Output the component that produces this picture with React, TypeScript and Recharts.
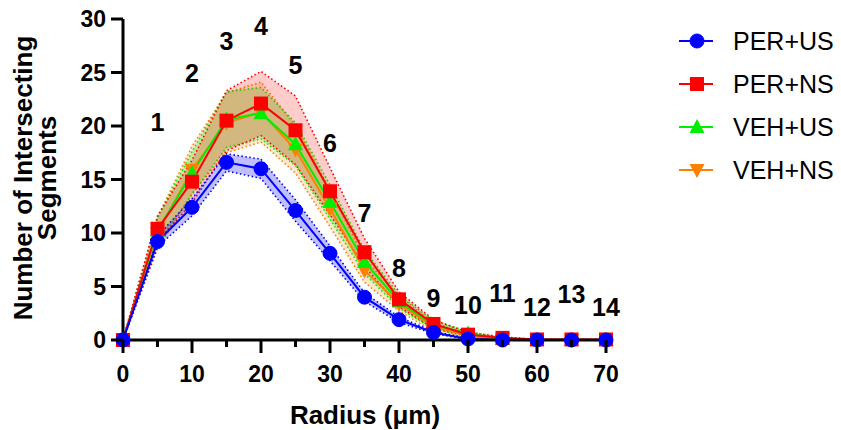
import React from 'react';
import {
  ComposedChart,
  Line,
  Area,
  XAxis,
  YAxis,
  LabelList,
} from 'recharts';

const radius = [0, 5, 10, 15, 20, 25, 30, 35, 40, 45, 50, 55, 60, 65, 70];

const perUS = [0, 9.2, 12.4, 16.6, 16.0, 12.1, 8.1, 4.0, 1.9, 0.7, 0.1, 0, 0, 0, 0];
const perUSErr = [0, 0.5, 0.8, 0.8, 0.9, 1.0, 0.7, 0.4, 0.25, 0.1, 0.05, 0, 0, 0, 0];

const perNS = [0, 10.4, 14.8, 20.5, 22.1, 19.6, 13.9, 8.2, 3.8, 1.5, 0.5, 0.2, 0.05, 0.05, 0.05];
const perNSErr = [0, 1.2, 2.0, 2.8, 3.0, 3.2, 2.2, 1.3, 0.7, 0.4, 0.2, 0.1, 0, 0, 0];

const vehUS = [0, 10.2, 15.6, 20.6, 21.2, 18.3, 12.9, 7.3, 3.6, 1.4, 0.6, 0.1, 0, 0, 0];
const vehUSErr = [0, 1.2, 2.0, 2.6, 2.4, 2.0, 1.6, 1.1, 0.6, 0.4, 0.2, 0.1, 0, 0, 0];

const vehNS = [0, 10.0, 15.9, 20.3, 21.3, 17.8, 12.3, 6.5, 3.4, 1.2, 0.4, 0.1, 0, 0, 0];
const vehNSErr = [0, 1.5, 2.2, 2.8, 2.8, 2.2, 1.7, 1.1, 0.7, 0.4, 0.2, 0.1, 0, 0, 0];

const stepLabels = [null, '1', '2', '3', '4', '5', '6', '7', '8', '9', '10', '11', '12', '13', '14'];
const stepLabelY = [null, 20.4, 25.0, 27.9, 29.3, 25.7, 18.4, 11.9, 6.7, 3.9, 3.3, 4.4, 3.1, 4.3, 3.1];

const xTicks = [0, 5, 10, 15, 20, 25, 30, 35, 40, 45, 50, 55, 60, 65, 70];
const yTicks = [0, 5, 10, 15, 20, 25, 30];

const seriesNames = ['PER+US', 'PER+NS', 'VEH+US', 'VEH+NS'];

const data = radius.map((r, i) => ({
  x: r,
  perUS: perUS[i],
  perUSBand: [perUS[i] - perUSErr[i], perUS[i] + perUSErr[i]],
  perNS: perNS[i],
  perNSBand: [perNS[i] - perNSErr[i], perNS[i] + perNSErr[i]],
  vehUS: vehUS[i],
  vehUSBand: [vehUS[i] - vehUSErr[i], vehUS[i] + vehUSErr[i]],
  vehNS: vehNS[i],
  vehNSBand: [vehNS[i] - vehNSErr[i], vehNS[i] + vehNSErr[i]],
  labelY: stepLabelY[i],
  labelText: stepLabels[i],
}));

const FONT = '"Liberation Sans", Arial, Helvetica, sans-serif';

const BLUE = '#0000ff';
const RED = '#ff0000';
const GREEN = '#00ee00';
const ORANGE = '#ff8000';

type Shape = 'circle' | 'square' | 'up' | 'down';

function marker(shape: Shape, cx: number, cy: number, color: string, key?: any) {
  if (cx == null || cy == null || isNaN(cx) || isNaN(cy)) return <g key={key} />;
  if (shape === 'circle') return <circle key={key} cx={cx} cy={cy} r={7} fill={color} stroke={color} />;
  if (shape === 'square')
    return <rect key={key} x={cx - 7} y={cy - 7} width={14} height={14} fill={color} />;
  if (shape === 'up')
    return (
      <polygon
        key={key}
        points={`${cx},${cy - 8} ${cx - 7.5},${cy + 6} ${cx + 7.5},${cy + 6}`}
        fill={color}
      />
    );
  return (
    <polygon
      key={key}
      points={`${cx},${cy + 8} ${cx - 7.5},${cy - 6} ${cx + 7.5},${cy - 6}`}
      fill={color}
    />
  );
}

const dotFn = (shape: Shape, color: string) => (props: any) =>
  marker(shape, props.cx, props.cy, color, `${shape}-${props.index}`);

const legendItems: { name: string; color: string; shape: Shape }[] = [
  { name: seriesNames[0], color: BLUE, shape: 'circle' },
  { name: seriesNames[1], color: RED, shape: 'square' },
  { name: seriesNames[2], color: GREEN, shape: 'up' },
  { name: seriesNames[3], color: ORANGE, shape: 'down' },
];

const renderLegend = () => (
  <g>
    {legendItems.map((it, i) => {
      const cy = 41 + i * 43;
      return (
        <g key={it.name}>
          <line x1={679} x2={713} y1={cy} y2={cy} stroke={it.color} strokeWidth={2} />
          {marker(it.shape, 697, cy, it.color)}
          <text
            x={733}
            y={cy}
            dominantBaseline="central"
            fontFamily={FONT}
            fontSize={25}
            fill="#000"
          >
            {it.name}
          </text>
        </g>
      );
    })}
  </g>
);

const XTick = (props: any) => {
  const { x, y, payload } = props;
  const v = payload.value;
  const major = v % 10 === 0;
  return (
    <g>
      <line x1={x} x2={x} y1={y} y2={y + (major ? 13 : 7)} stroke="#000" strokeWidth={3} />
      {major && (
        <text
          x={x}
          y={y + 34}
          textAnchor="middle"
          dominantBaseline="central"
          fontFamily={FONT}
          fontWeight="bold"
          fontSize={23}
          fill="#000"
        >
          {v}
        </text>
      )}
    </g>
  );
};

const YTick = (props: any) => {
  const { y, payload } = props;
  return (
    <g>
      <line x1={123} x2={111} y1={y} y2={y} stroke="#000" strokeWidth={3} />
      <text
        x={106}
        y={y}
        textAnchor="end"
        dominantBaseline="central"
        fontFamily={FONT}
        fontWeight="bold"
        fontSize={23}
        fill="#000"
      >
        {payload.value}
      </text>
    </g>
  );
};

const renderYLabel = () => (
  <g>
    <text
      transform="translate(32,178) rotate(-90)"
      textAnchor="middle"
      fontFamily={FONT}
      fontWeight="bold"
      fontSize={26}
      fill="#000"
    >
      Number of Intersecting
    </text>
    <text
      transform="translate(56,178) rotate(-90)"
      textAnchor="middle"
      fontFamily={FONT}
      fontWeight="bold"
      fontSize={26}
      fill="#000"
    >
      Segments
    </text>
  </g>
);

const renderXLabel = () => (
  <g>
    <text
      x={365}
      y={424}
      textAnchor="middle"
      fontFamily={FONT}
      fontWeight="bold"
      fontSize={26}
      fill="#000"
    >
      Radius (μm)
    </text>
    {renderLegend()}
  </g>
);

const renderStep = (props: any) => {
  const { x, y, value } = props;
  if (value == null || x == null || y == null) return null;
  return (
    <text
      x={x}
      y={y}
      textAnchor="middle"
      dominantBaseline="central"
      fontFamily={FONT}
      fontWeight="bold"
      fontSize={25}
      fill="#000"
    >
      {value}
    </text>
  );
};

const bandProps = (color: string, fill: string) => ({
  type: 'linear' as const,
  stroke: color,
  strokeWidth: 1.6,
  strokeDasharray: '1.5 2.5',
  fill,
  fillOpacity: 1,
  dot: false,
  activeDot: false,
  isAnimationActive: false,
  legendType: 'none' as const,
});

export default function App() {
  return (
    <div style={{ position: 'absolute', left: 0, top: 0, width: 841, height: 430, background: '#fff' }}>
      <ComposedChart
        width={841}
        height={430}
        data={data}
        margin={{ top: 19, right: 235, bottom: 30, left: 53 }}
      >
        <XAxis
          type="number"
          dataKey="x"
          domain={[0, 70]}
          ticks={xTicks}
          interval={0}
          height={60}
          axisLine={{ stroke: '#000', strokeWidth: 3 }}
          tickLine={false}
          tickSize={0}
          tickMargin={0}
          tick={<XTick />}
          label={{ content: renderXLabel } as any}
        />
        <YAxis
          type="number"
          domain={[0, 30]}
          ticks={yTicks}
          interval={0}
          width={70}
          axisLine={{ stroke: '#000', strokeWidth: 3 }}
          tickLine={false}
          tickSize={0}
          tickMargin={0}
          tick={<YTick />}
          label={{ content: renderYLabel } as any}
        />

        <Area dataKey="vehNSBand" {...bandProps(ORANGE, 'rgba(255,128,0,0.2)')} />
        <Line
          dataKey="vehNS"
          type="linear"
          stroke={ORANGE}
          strokeWidth={2}
          dot={dotFn('down', ORANGE)}
          activeDot={false}
          isAnimationActive={false}
        />

        <Area dataKey="vehUSBand" {...bandProps(GREEN, 'rgba(0,230,0,0.22)')} />
        <Line
          dataKey="vehUS"
          type="linear"
          stroke={GREEN}
          strokeWidth={2}
          dot={dotFn('up', GREEN)}
          activeDot={false}
          isAnimationActive={false}
        />

        <Area dataKey="perNSBand" {...bandProps(RED, 'rgba(255,0,0,0.2)')} />
        <Line
          dataKey="perNS"
          type="linear"
          stroke={RED}
          strokeWidth={2}
          dot={dotFn('square', RED)}
          activeDot={false}
          isAnimationActive={false}
        />

        <Area dataKey="perUSBand" {...bandProps(BLUE, 'rgba(0,0,255,0.25)')} />
        <Line
          dataKey="perUS"
          type="linear"
          stroke={BLUE}
          strokeWidth={2}
          dot={dotFn('circle', BLUE)}
          activeDot={false}
          isAnimationActive={false}
        />

        <Line
          dataKey="labelY"
          type="linear"
          stroke="none"
          dot={false}
          activeDot={false}
          legendType="none"
          isAnimationActive={false}
        >
          <LabelList dataKey="labelText" content={renderStep} />
        </Line>
      </ComposedChart>
    </div>
  );
}
